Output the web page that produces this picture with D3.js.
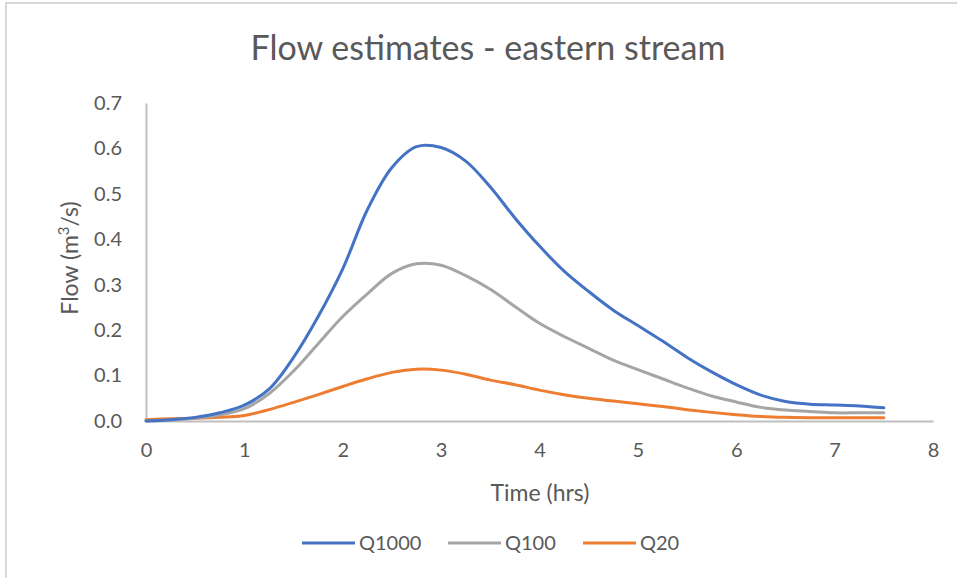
<!DOCTYPE html>
<html>
<head>
<meta charset="utf-8">
<script src="https://cdn.jsdelivr.net/npm/d3@7"></script>
<style>
  html, body { margin: 0; padding: 0; background: #fff; }
  svg { display: block; }
  text { font-family: Lato, "Open Sans", sans-serif; fill: #595959; }
</style>
</head>
<body>
<div id="chart"></div>
<script>
const times = [0,0.25,0.5,0.75,1,1.25,1.5,1.75,2,2.25,2.5,2.75,3,3.25,3.5,3.75,4,4.25,4.5,4.75,5,5.25,5.5,5.75,6,6.25,6.5,6.75,7,7.25,7.5];
const q1000 = [0,0.003,0.008,0.018,0.035,0.07,0.14,0.23,0.335,0.465,0.558,0.604,0.602,0.572,0.515,0.447,0.385,0.33,0.285,0.244,0.21,0.176,0.14,0.108,0.08,0.057,0.043,0.037,0.035,0.033,0.029];
const q100 = [0,0.002,0.006,0.013,0.027,0.06,0.11,0.17,0.23,0.28,0.325,0.346,0.343,0.32,0.29,0.252,0.215,0.186,0.16,0.134,0.113,0.093,0.073,0.055,0.042,0.03,0.024,0.021,0.018,0.018,0.018];
const q20 = [0.003,0.005,0.006,0.008,0.012,0.025,0.041,0.058,0.076,0.093,0.107,0.114,0.112,0.103,0.09,0.08,0.068,0.058,0.05,0.044,0.038,0.032,0.025,0.019,0.014,0.01,0.008,0.007,0.007,0.007,0.007];
const seriesNames = ["Q1000","Q100","Q20"];
const seriesColors = ["#4472C4","#A5A5A5","#ED7D31"];
const xTicks = [0,1,2,3,4,5,6,7,8];
const yTicks = [0,0.1,0.2,0.3,0.4,0.5,0.6,0.7];

const W = 957, H = 578;
const svg = d3.select("#chart").append("svg").attr("width", W).attr("height", H);

// chart area border (top & left visible)
svg.append("line").attr("x1", 5).attr("x2", W).attr("y1", 3).attr("y2", 3)
  .attr("stroke", "#D9D9D9").attr("stroke-width", 2);
svg.append("line").attr("x1", 6).attr("x2", 6).attr("y1", 3).attr("y2", H)
  .attr("stroke", "#D9D9D9").attr("stroke-width", 2);

const x = d3.scaleLinear().domain([0, 8]).range([146, 933]);
const y = d3.scaleLinear().domain([0, 0.7]).range([421, 103]);

// title
svg.append("text").attr("x", 488).attr("y", 60).attr("text-anchor", "middle")
  .style("font-size", "34px").text("Flow estimates - eastern stream");

// y axis
const yAxis = d3.axisLeft(y).tickValues(yTicks).tickFormat(d3.format(".1f")).tickSize(0).tickPadding(24);
const gy = svg.append("g").attr("transform", "translate(146,0)").call(yAxis);
gy.select(".domain").attr("stroke", "#BFBFBF").attr("stroke-width", 2);
gy.selectAll("text").style("font-size", "20px").attr("fill", "#595959").style("font-family", "Lato, sans-serif");

// x axis
const xAxis = d3.axisBottom(x).tickValues(xTicks).tickFormat(d3.format("d")).tickSize(0).tickPadding(22);
const gx = svg.append("g").attr("transform", "translate(0,421)").call(xAxis);
gx.select(".domain").attr("stroke", "#BFBFBF").attr("stroke-width", 2);
gx.selectAll("text").style("font-size", "20px").attr("fill", "#595959").style("font-family", "Lato, sans-serif");

// axis titles
svg.append("text").attr("x", 540).attr("y", 501).attr("text-anchor", "middle")
  .style("font-size", "23px").text("Time (hrs)");
const yt = svg.append("text").attr("transform", "translate(78,258) rotate(-90)")
  .attr("text-anchor", "middle").style("font-size", "23px");
yt.append("tspan").text("Flow (m");
yt.append("tspan").attr("dy", -9).style("font-size", "15px").text("3");
yt.append("tspan").attr("dy", 9).text("/s)");

// lines
const allSeries = [q1000, q100, q20];
const line = d3.line().x((d, i) => x(times[i])).y(d => y(d)).curve(d3.curveCatmullRom.alpha(0.5));
[2, 1, 0].forEach(k => {
  svg.append("path").datum(allSeries[k]).attr("d", line)
    .attr("fill", "none").attr("stroke", seriesColors[k]).attr("stroke-width", 3)
    .attr("stroke-linejoin", "round").attr("stroke-linecap", "round");
});

// legend
const legendX = [302, 448, 583];
seriesNames.forEach((name, k) => {
  const g = svg.append("g").attr("transform", `translate(${legendX[k]},543)`);
  g.append("line").attr("x1", 0).attr("x2", 53).attr("y1", 0).attr("y2", 0)
    .attr("stroke", seriesColors[k]).attr("stroke-width", 3);
  g.append("text").attr("x", 57).attr("y", 7).style("font-size", "20px").text(name);
});
</script>
</body>
</html>
